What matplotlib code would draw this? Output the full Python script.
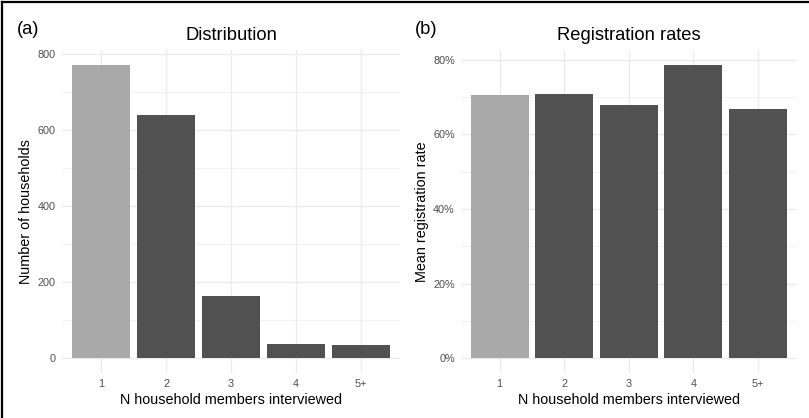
import matplotlib
matplotlib.use("Agg")
import matplotlib.pyplot as plt
from matplotlib.lines import Line2D
from matplotlib.ticker import MultipleLocator, FuncFormatter

plt.rcParams['font.family'] = ['Liberation Sans', 'DejaVu Sans']

# Data
categories = ['1', '2', '3', '4', '5+']
n_households = [773, 641, 165, 37, 34]
reg_rates = [0.706, 0.708, 0.679, 0.787, 0.668]
bar_colors = ['#A9A9A9', '#515151', '#515151', '#515151', '#515151']

grid_col = '#EBEBEB'
tick_col = '#4D4D4D'

fig = plt.figure(figsize=(8.09, 4.18), dpi=100)
ax1 = fig.add_axes([62 / 809, 1 - 373 / 418, (400 - 62) / 809, (373 - 50) / 418])
ax2 = fig.add_axes([461 / 809, 1 - 373 / 418, (796.5 - 461) / 809, (373 - 50) / 418])


def style(ax, values, major, minor):
    xs = range(1, len(categories) + 1)
    ax.bar(xs, values, width=0.9, color=bar_colors, zorder=2)
    ax.set_xlim(0.4, len(categories) + 0.6)
    top = max(values) * 1.05
    ax.set_ylim(-max(values) * 0.05, top)
    ax.set_xticks(list(xs))
    ax.set_xticklabels(categories)
    ax.yaxis.set_major_locator(MultipleLocator(major))
    ax.yaxis.set_minor_locator(MultipleLocator(minor))
    ax.grid(True, which='major', color=grid_col, linewidth=1.0, zorder=0)
    ax.grid(True, which='minor', axis='y', color=grid_col, linewidth=0.5, zorder=0)
    ax.set_axisbelow(True)
    for s in ax.spines.values():
        s.set_visible(False)
    ax.tick_params(which='both', length=0, labelsize=7.8, labelcolor=tick_col)
    ax.tick_params(axis='y', pad=4.5)
    ax.tick_params(axis='x', pad=4)
    ax.set_xlabel('N household members interviewed', fontsize=10.4, labelpad=3)


style(ax1, n_households, 200, 100)
ax1.set_ylabel('Number of households', fontsize=10.4, labelpad=3)
ax1.set_title('Distribution', fontsize=13.2, pad=7)

style(ax2, reg_rates, 0.2, 0.1)
ax2.yaxis.set_major_formatter(FuncFormatter(lambda v, p: f'{v * 100:.0f}%'))
ax2.set_ylabel('Mean registration rate', fontsize=10.4, labelpad=3)
ax2.set_title('Registration rates', fontsize=13.2, pad=7)

fig.text(17 / 809, 1 - 29 / 418, '(a)', fontsize=13.2, va='center', ha='left')
fig.text(415 / 809, 1 - 29 / 418, '(b)', fontsize=13.2, va='center', ha='left')

# frame on left and top edge
fig.add_artist(Line2D([0.002, 0.002], [0, 0.996], color='black', linewidth=1.6,
                      transform=fig.transFigure))
fig.add_artist(Line2D([0.002, 1], [0.996, 0.996], color='black', linewidth=1.6,
                      transform=fig.transFigure))

fig.savefig('out.png', dpi=100, facecolor='white')
